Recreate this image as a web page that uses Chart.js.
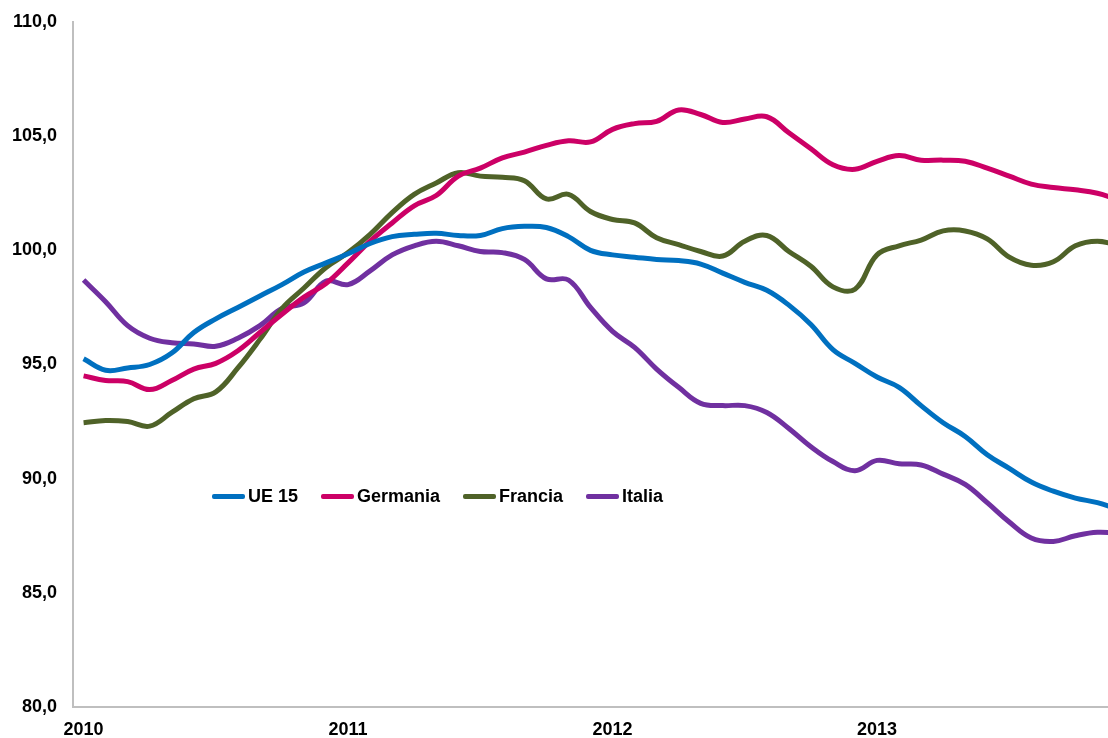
<!DOCTYPE html>
<html>
<head>
<meta charset="utf-8">
<script src="https://cdn.jsdelivr.net/npm/chart.js@4"></script>
<style>
  body { margin: 0; background: #fff; }
  #wrap { position: relative; width: 1108px; height: 738px; }
  #legend {
    position: absolute; left: 212px; top: 486px;
    display: flex; align-items: center;
    font: bold 18px "Liberation Sans", Arial, sans-serif; color: #000;
  }
  .item { display: flex; align-items: center; margin-right: 23px; }
  .swatch { width: 33px; height: 5px; border-radius: 2px; margin-right: 3px; }
</style>
</head>
<body>
<div id="wrap">
  <canvas id="chart"></canvas>
  <div id="legend"></div>
</div>
<script>
// years shown on the x axis (one tick every 12 months)
const years = ['2010', '2011', '2012', '2013'];

// monthly index values, Jan 2010 onward
const ue15 = [95.25, 94.75, 94.85, 95.0, 95.5, 96.4, 97.0, 97.5, 98.0, 98.5, 99.05, 99.45,
  99.85, 100.3, 100.6, 100.7, 100.75, 100.65, 100.65, 100.95, 101.05, 101.0, 100.6, 100.0,
  99.8, 99.7, 99.6, 99.55, 99.4, 99.0, 98.6, 98.25, 97.6, 96.75, 95.65, 95.05,
  94.45, 94.0, 93.2, 92.45, 91.85, 91.05, 90.45, 89.85, 89.45, 89.15, 88.95, 88.65];

const germania = [94.5, 94.3, 94.25, 93.9, 94.3, 94.8, 95.05, 95.6, 96.4, 97.2, 97.95, 98.55,
  99.45, 100.4, 101.2, 101.95, 102.4, 103.25, 103.6, 104.05, 104.3, 104.6, 104.8, 104.75,
  105.3, 105.55, 105.65, 106.15, 105.95, 105.6, 105.75, 105.85, 105.15, 104.45, 103.75, 103.55,
  103.9, 104.15, 103.95, 103.95, 103.9, 103.6, 103.25, 102.9, 102.75, 102.65, 102.5, 102.2];

const francia = [92.45, 92.55, 92.5, 92.3, 92.9, 93.5, 93.8, 94.85, 96.1, 97.45, 98.35, 99.25,
  99.9, 100.7, 101.65, 102.45, 102.95, 103.4, 103.25, 103.2, 103.05, 102.25, 102.45, 101.7,
  101.35, 101.2, 100.55, 100.25, 99.95, 99.75, 100.4, 100.65, 99.95, 99.3, 98.4, 98.3,
  99.8, 100.2, 100.45, 100.85, 100.85, 100.5, 99.7, 99.35, 99.5, 100.2, 100.4, 100.2];

const italia = [98.7, 97.75, 96.7, 96.15, 95.95, 95.9, 95.8, 96.15, 96.7, 97.45, 97.7, 98.65,
  98.5, 99.1, 99.8, 100.2, 100.4, 100.2, 99.95, 99.9, 99.6, 98.75, 98.7, 97.5,
  96.45, 95.75, 94.8, 94.0, 93.3, 93.2, 93.2, 92.9, 92.2, 91.4, 90.75, 90.35,
  90.8, 90.65, 90.6, 90.2, 89.75, 88.95, 88.1, 87.4, 87.25, 87.5, 87.65, 87.6];

const seriesNames = ['UE 15', 'Germania', 'Francia', 'Italia'];
const seriesColors = ['#0070C0', '#CC0066', '#4F6228', '#7030A0'];
const seriesData = [ue15, germania, francia, italia];

const font = { family: '"Liberation Sans", Arial, sans-serif', size: 18, weight: 'bold' };

const datasets = seriesData.map((arr, k) => ({
  label: seriesNames[k],
  data: arr.map((v, i) => ({ x: i, y: v })),
  borderColor: seriesColors[k],
  backgroundColor: seriesColors[k],
  borderWidth: 5,
  pointRadius: 0,
  tension: 0.4,
  clip: 0
}));

new Chart(document.getElementById('chart'), {
  type: 'line',
  data: { datasets: datasets },
  options: {
    responsive: true,
    maintainAspectRatio: false,
    animation: false,
    layout: { padding: { top: 22, right: 0, bottom: 0, left: 0 } },
    plugins: { legend: { display: false }, tooltip: { enabled: false } },
    scales: {
      x: {
        type: 'linear',
        min: -0.48,
        max: 46.48,
        grid: { display: false, drawTicks: false },
        border: { color: '#bfbfbf', width: 2 },
        afterBuildTicks: axis => { axis.ticks = years.map((y, i) => ({ value: i * 12 })); },
        afterFit: axis => { axis.height = 31; axis.paddingLeft = 0; axis.paddingRight = 0; },
        ticks: {
          color: '#000',
          font: font,
          padding: 12,
          autoSkip: false,
          maxRotation: 0,
          callback: v => years[v / 12]
        }
      },
      y: {
        min: 80,
        max: 110,
        grid: { display: false, drawTicks: false },
        border: { color: '#bfbfbf', width: 2 },
        afterFit: axis => { axis.width = 73; axis.paddingTop = 0; axis.paddingBottom = 0; },
        ticks: {
          stepSize: 5,
          color: '#000',
          font: font,
          padding: 16,
          callback: v => v.toFixed(1).replace('.', ',')
        }
      }
    }
  }
});

// legend placed inside the plot, like the original
const legend = document.getElementById('legend');
seriesNames.forEach((name, k) => {
  const item = document.createElement('div');
  item.className = 'item';
  item.innerHTML = `<span class="swatch" style="background:${seriesColors[k]}"></span><span>${name}</span>`;
  legend.appendChild(item);
});
</script>
</body>
</html>
